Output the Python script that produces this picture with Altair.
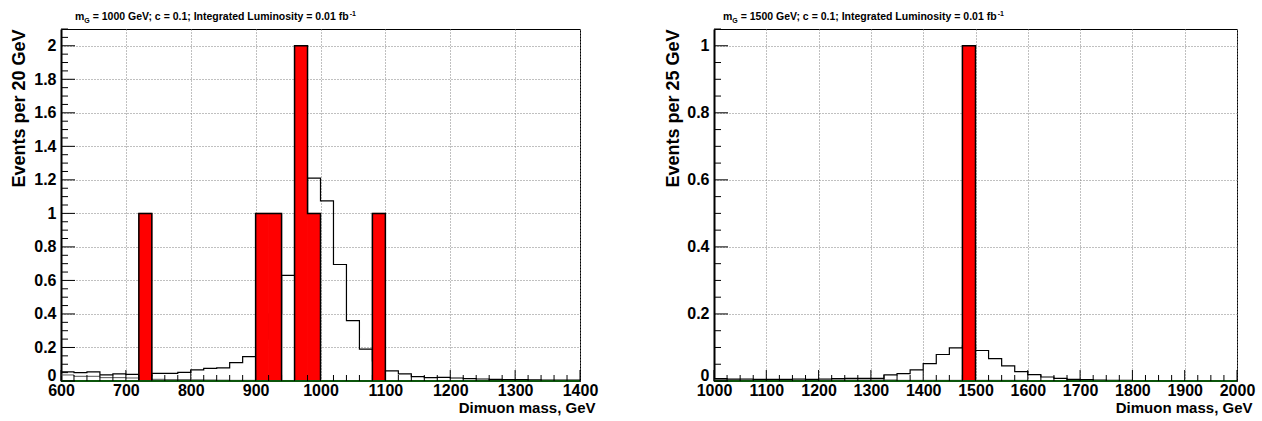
import altair as alt
import pandas as pd

# ---------------- data ----------------
left_range = [600, 1400]
left_bin = 20
left_data = [0, 0, 0, 0, 0, 0, 1, 0, 0, 0,
             0, 0, 0, 0, 0, 1, 1, 0, 2, 1,
             0, 0, 0, 0, 1, 0, 0, 0, 0, 0,
             0, 0, 0, 0, 0, 0, 0, 0, 0, 0]
left_mc_total = [0.055, 0.050, 0.054, 0.036, 0.042, 0.040, 0.030, 0.045, 0.045, 0.052,
                 0.066, 0.075, 0.078, 0.110, 0.145, 0.250, 0.400, 0.630, 1.000, 1.210,
                 1.075, 0.695, 0.360, 0.190, 0.120, 0.060, 0.042, 0.026, 0.020, 0.022,
                 0.018, 0.014, 0.012, 0.010, 0.009, 0.008, 0.007, 0.006, 0.005, 0.005]
left_mc_bkg = [0.036, 0.028, 0.028, 0.020, 0.020, 0.018, 0.015, 0.010, 0.008, 0.008,
               0.007, 0.006, 0.005, 0.004, 0.004, 0.003, 0.003, 0.003, 0.003, 0.003,
               0.003, 0.003, 0.002, 0.002, 0.002, 0.002, 0.002, 0.002, 0.002, 0.002,
               0.002, 0.001, 0.001, 0.001, 0.001, 0.001, 0.001, 0.001, 0.001, 0.001]

right_range = [1000, 2000]
right_bin = 25
right_data = [0, 0, 0, 0, 0, 0, 0, 0, 0, 0,
              0, 0, 0, 0, 0, 0, 0, 0, 0, 1,
              0, 0, 0, 0, 0, 0, 0, 0, 0, 0,
              0, 0, 0, 0, 0, 0, 0, 0, 0, 0]
right_mc_total = [0.007, 0.006, 0.006, 0.005, 0.005, 0.005, 0.006, 0.005, 0.006, 0.007,
                  0.008, 0.008, 0.008, 0.018, 0.022, 0.033, 0.052, 0.079, 0.099, 0.105,
                  0.091, 0.067, 0.045, 0.028, 0.019, 0.012, 0.008, 0.005, 0.004, 0.003,
                  0.002, 0.002, 0.001, 0.001, 0.001, 0.001, 0.001, 0.001, 0.001, 0.001]
right_mc_bkg = [0.004, 0.004, 0.003, 0.003, 0.003, 0.003, 0.003, 0.003, 0.003, 0.003,
                0.003, 0.003, 0.003, 0.003, 0.002, 0.002, 0.002, 0.002, 0.002, 0.002,
                0.002, 0.002, 0.002, 0.002, 0.001, 0.001, 0.001, 0.001, 0.001, 0.001,
                0.001, 0.001, 0.001, 0.001, 0.001, 0.001, 0.001, 0.001, 0.001, 0.001]

left_yticks = [0, 0.2, 0.4, 0.6, 0.8, 1, 1.2, 1.4, 1.6, 1.8, 2]
right_yticks = [0, 0.2, 0.4, 0.6, 0.8, 1]
left_xticks = [600, 700, 800, 900, 1000, 1100, 1200, 1300, 1400]
right_xticks = [1000, 1100, 1200, 1300, 1400, 1500, 1600, 1700, 1800, 1900, 2000]

FONT = "Liberation Sans"

# Helvetica-Bold advance widths (per 1000 em) to place title pieces
HB = {" ": 278, "=": 584, ".": 278, ";": 333, ",": 278, "-": 333,
      "a": 556, "b": 611, "c": 556, "d": 611, "e": 556, "f": 333, "g": 611, "i": 278,
      "m": 889, "n": 611, "o": 611, "r": 389, "s": 556, "t": 333, "u": 611, "y": 556,
      "G": 778, "I": 278, "L": 611, "V": 667}


def text_width(s, size):
    return sum(HB.get(ch, 556) for ch in s) * size / 1000.0


def step_df(x0, bw, vals):
    xs = [x0 + i * bw for i in range(len(vals) + 1)]
    ys = list(vals) + [vals[-1]]
    return pd.DataFrame({"x": xs, "y": ys})


def panel(xr, bw, data, mc_tot, mc_bkg, ymax, xticks, yticks, mass, width, height,
          title_x, ytitle_x, bounds_marker):
    xscale = alt.Scale(domain=xr, nice=False, zero=False)
    yscale = alt.Scale(domain=[0, ymax], nice=False, zero=False)
    xaxis = alt.Axis(values=xticks, format="d", title="Dimuon mass, GeV",
                     labelFont=FONT, labelFontWeight="bold", labelFontSize=16, labelColor="black",
                     labelPadding=1, ticks=False, tickSize=0, domain=True, domainColor="black",
                     grid=True, gridColor="#808080", gridDash=[1, 2], gridWidth=1,
                     titleFont=FONT, titleFontWeight="bold", titleFontSize=15, titleColor="black",
                     titleAlign="right", titleAnchor="end", titleX=width + 15, titleY=31,
                     titleBaseline="alphabetic", labelFlush=False, labelOverlap=False)
    yaxis = alt.Axis(values=yticks, format="~g", title=f"Events per {bw} GeV",
                     labelFont=FONT, labelFontWeight="bold", labelFontSize=16, labelColor="black",
                     labelPadding=5, ticks=False, tickSize=0, domain=True, domainColor="black",
                     domainWidth=2, grid=True, gridColor="#808080", gridDash=[1, 2], gridWidth=1,
                     labelOffset={"condition": {"test": "datum.value === 0", "value": -6}, "value": 0},
                     titleFont=FONT, titleFontWeight="bold", titleFontSize=18, titleColor="black",
                     titleAngle=270, titleAlign="right", titleAnchor="end", titleX=ytitle_x, titleY=0,
                     titleBaseline="alphabetic", labelFlush=False, labelOverlap=False)
    X = alt.X("x:Q", scale=xscale, axis=xaxis)
    Y = alt.Y("y:Q", scale=yscale, axis=yaxis)

    n = len(data)
    lo = [xr[0] + i * bw for i in range(n)]
    bars = pd.DataFrame({"x": lo, "x2": [v + bw for v in lo], "y": data, "y2": [0] * n})
    bars = bars[bars["y"] > 0]

    layers = []
    layers.append(alt.Chart(step_df(xr[0], bw, mc_bkg)).mark_line(
        interpolate="step-after", color="#555555", strokeWidth=1).encode(x=X, y=Y))
    layers.append(alt.Chart(step_df(xr[0], bw, mc_tot)).mark_line(
        interpolate="step-after", color="black", strokeWidth=1.2).encode(x=X, y=Y))
    layers.append(alt.Chart(bars).mark_rect(color="#ff0000", stroke="#ff0000", strokeWidth=0.8).encode(
        x=X, x2="x2:Q", y=Y, y2="y2:Q"))
    layers.append(alt.Chart(step_df(xr[0], bw, data)).mark_line(
        interpolate="step-after", color="black", strokeWidth=1.5).encode(x=X, y=Y))
    # dark green zero line
    layers.append(alt.Chart(pd.DataFrame({"y": [0]})).mark_rule(
        color="#0b550b", strokeWidth=2).encode(y=Y, x=alt.value(0), x2=alt.value(width)))

    # inner ticks (ROOT style)
    xmajor = pd.DataFrame({"x": xticks})
    xminor = pd.DataFrame({"x": [v for v in range(xr[0], xr[1] + 1, bw) if v % 100 != 0]})
    layers.append(alt.Chart(xmajor).mark_rule(color="black", strokeWidth=1).encode(
        x=X, y=alt.value(height), y2=alt.value(height - 11)))
    layers.append(alt.Chart(xminor).mark_rule(color="black", strokeWidth=1).encode(
        x=X, y=alt.value(height), y2=alt.value(height - 6)))
    ymin_vals = [round(0.05 * k, 2) for k in range(int(round(ymax / 0.05)) + 1)]
    yminor = pd.DataFrame({"y": [v for v in ymin_vals if round(v * 5, 6) % 1 != 0]})
    layers.append(alt.Chart(pd.DataFrame({"y": yticks})).mark_rule(color="black", strokeWidth=1).encode(
        y=Y, x=alt.value(0), x2=alt.value(14)))
    layers.append(alt.Chart(yminor).mark_rule(color="black", strokeWidth=1).encode(
        y=Y, x=alt.value(0), x2=alt.value(7)))

    # title pieces: m_G = ... fb^-1
    one = pd.DataFrame({"a": [0]})
    fs = 10.5
    base_y = -9
    main = f"= {mass} GeV; c = 0.1; Integrated Luminosity = 0.01 fb"
    x_m = title_x
    x_g = x_m + text_width("m", fs)
    x_main = x_g + text_width("G", 7) + text_width(" ", fs)
    x_sup = x_main + text_width(main, fs) + 0.5
    tstyle = dict(font=FONT, fontWeight="bold", color="black", align="left", baseline="alphabetic")
    layers.append(alt.Chart(one).mark_text(fontSize=fs, **tstyle).encode(
        x=alt.value(x_m), y=alt.value(base_y), text=alt.value("m")))
    layers.append(alt.Chart(one).mark_text(fontSize=7, **tstyle).encode(
        x=alt.value(x_g), y=alt.value(base_y + 2.5), text=alt.value("G")))
    layers.append(alt.Chart(one).mark_text(fontSize=fs, **tstyle).encode(
        x=alt.value(x_main), y=alt.value(base_y), text=alt.value(main)))
    layers.append(alt.Chart(one).mark_text(fontSize=7, **tstyle).encode(
        x=alt.value(x_sup), y=alt.value(base_y - 4), text=alt.value("-1")))

    if bounds_marker:
        layers.append(alt.Chart(one).mark_rule(opacity=0, strokeWidth=0.1).encode(
            x=alt.value(-60), x2=alt.value(-59), y=alt.value(-28), y2=alt.value(-27)))

    return alt.layer(*layers).properties(width=width, height=height)


left = panel(left_range, left_bin, left_data, left_mc_total, left_mc_bkg, 2.1,
             left_xticks, left_yticks, 1000, 519, 352, 14, -37, True)
right = panel(right_range, right_bin, right_data, right_mc_total, right_mc_bkg, 1.05,
              right_xticks, right_yticks, 1500, 523, 352, 9, -36, False)

chart = alt.hconcat(left, right, spacing=134, bounds="flush").properties(
    padding={"left": 0, "top": 0, "right": 0, "bottom": 0},
    background="white",
).configure_view(stroke="black", strokeWidth=1)

chart.save("out.html", embed_options={"renderer": "svg", "actions": False})
